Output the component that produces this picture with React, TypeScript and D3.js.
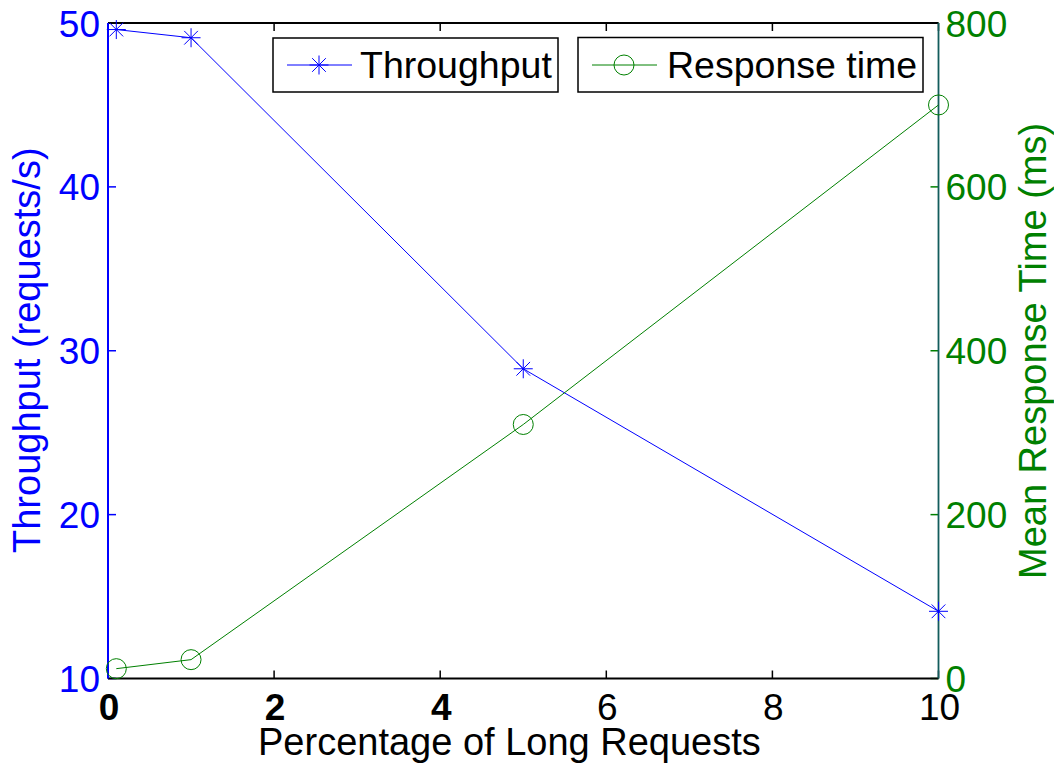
import React from "react";
import * as d3 from "d3";

// Share of long requests (%) for each measurement
const longRequestPct = [0.1, 1, 5, 10];
// Throughput in requests/s
const throughput = [49.6, 49.1, 28.9, 14.1];
// Mean response time in ms
const responseTime = [12, 23, 310, 700];

const xTicks = [0, 2, 4, 6, 8, 10];
const leftTicks = [10, 20, 30, 40, 50];
const rightTicks = [0, 200, 400, 600, 800];

const W = 1054;
const H = 765;
const plot = { left: 108, right: 938.5, top: 23, bottom: 678.5 };
const FONT = "'Liberation Sans', Arial, Helvetica, sans-serif";
const FS = 37;
const LABEL_FS = 38;
const LEGEND_FS = 37.5;
const BLUE = "#0000ff";
const GREEN = "#008000";
const TEAL = "#135c5c";
const TICK = 8;

function starPath(cx: number, cy: number, r: number) {
  const d = r * 0.72;
  return (
    `M${cx - r},${cy}L${cx + r},${cy}` +
    `M${cx},${cy - r}L${cx},${cy + r}` +
    `M${cx - d},${cy - d}L${cx + d},${cy + d}` +
    `M${cx - d},${cy + d}L${cx + d},${cy - d}`
  );
}

export default function App() {
  const x = d3.scaleLinear().domain([0, 10]).range([plot.left, plot.right]);
  const yL = d3.scaleLinear().domain([10, 50]).range([plot.bottom, plot.top]);
  const yR = d3.scaleLinear().domain([0, 800]).range([plot.bottom, plot.top]);

  const tpLine = d3
    .line<number>()
    .x((_, i) => x(longRequestPct[i]))
    .y((v) => yL(v))(throughput);
  const rtLine = d3
    .line<number>()
    .x((_, i) => x(longRequestPct[i]))
    .y((v) => yR(v))(responseTime);

  return (
    <svg
      width={W}
      height={H}
      style={{ position: "absolute", left: 0, top: 0, background: "#fff" }}
      fontFamily={FONT}
    >
      <rect x={0} y={0} width={W} height={H} fill="#fff" />

      {/* x ticks, bottom and top, pointing inward */}
      {xTicks.map((t) => (
        <g key={`xt${t}`} stroke="#000" strokeWidth={1.5}>
          <line x1={x(t)} x2={x(t)} y1={plot.bottom} y2={plot.bottom - TICK} />
          <line x1={x(t)} x2={x(t)} y1={plot.top} y2={plot.top + TICK} />
        </g>
      ))}
      {/* left axis ticks */}
      {leftTicks.map((t) => (
        <line
          key={`lt${t}`}
          x1={plot.left}
          x2={plot.left + TICK}
          y1={yL(t)}
          y2={yL(t)}
          stroke={BLUE}
          strokeWidth={1.5}
        />
      ))}
      {/* right axis ticks */}
      {rightTicks.map((t) => (
        <line
          key={`rt${t}`}
          x1={plot.right}
          x2={plot.right - TICK}
          y1={yR(t)}
          y2={yR(t)}
          stroke={GREEN}
          strokeWidth={1.5}
        />
      ))}

      {/* frame */}
      <line x1={plot.left} x2={plot.right} y1={plot.top} y2={plot.top} stroke="#000" strokeWidth={1.8} />
      <line x1={plot.left} x2={plot.right} y1={plot.bottom} y2={plot.bottom} stroke="#000" strokeWidth={1.8} />
      <line x1={plot.left} x2={plot.left} y1={plot.top} y2={plot.bottom} stroke={BLUE} strokeWidth={2} />
      <line x1={plot.right} x2={plot.right} y1={plot.top} y2={plot.bottom} stroke={TEAL} strokeWidth={1.8} />

      {/* series lines */}
      <path d={tpLine ?? ""} fill="none" stroke={BLUE} strokeWidth={1} />
      <path d={rtLine ?? ""} fill="none" stroke={GREEN} strokeWidth={1} />

      {/* markers */}
      {throughput.map((v, i) => (
        <path
          key={`tp${i}`}
          d={starPath(x(longRequestPct[i]), yL(v), 9.5)}
          stroke={BLUE}
          strokeWidth={1}
          fill="none"
        />
      ))}
      {responseTime.map((v, i) => (
        <circle
          key={`rt${i}`}
          cx={x(longRequestPct[i])}
          cy={yR(v)}
          r={10}
          stroke={GREEN}
          strokeWidth={1}
          fill="none"
        />
      ))}

      {/* x tick labels */}
      {xTicks.map((t) => (
        <text
          key={`xl${t}`}
          x={x(t) + 1}
          y={720}
          textAnchor="middle"
          fontSize={FS}
          fontWeight={t < 5 ? "bold" : "normal"}
          fill="#000"
        >
          {t}
        </text>
      ))}
      {/* left tick labels */}
      {leftTicks.map((t) => (
        <text
          key={`yl${t}`}
          x={plot.left - 8}
          y={yL(t) + 13.5}
          textAnchor="end"
          fontSize={FS}
          fill={BLUE}
        >
          {t}
        </text>
      ))}
      {/* right tick labels */}
      {rightTicks.map((t) => (
        <text
          key={`yr${t}`}
          x={plot.right + 7}
          y={yR(t) + 13.5}
          textAnchor="start"
          fontSize={FS}
          fill={GREEN}
        >
          {t}
        </text>
      ))}

      {/* axis titles */}
      <text x={258} y={755} textAnchor="start" fontSize={LABEL_FS} fill="#000">
        Percentage of Long Requests
      </text>
      <text
        transform={`translate(40,553) rotate(-90)`}
        textAnchor="start"
        fontSize={LABEL_FS}
        fill={BLUE}
      >
        Throughput (requests/s)
      </text>
      <text
        transform={`translate(1046,579) rotate(-90)`}
        textAnchor="start"
        fontSize={LABEL_FS}
        fill={GREEN}
      >
        Mean Response Time (ms)
      </text>

      {/* legend entries */}
      <g>
        <rect x={273} y={38} width={285} height={54} fill="#fff" stroke="#000" strokeWidth={1.5} />
        <line x1={287} x2={352} y1={65} y2={65} stroke={BLUE} strokeWidth={1} />
        <path d={starPath(319, 65, 9.5)} stroke={BLUE} strokeWidth={1} fill="none" />
        <text x={360} y={78} fontSize={LEGEND_FS} fill="#000">
          Throughput
        </text>
      </g>
      <g>
        <rect x={578} y={37.5} width={345} height={54.5} fill="#fff" stroke="#000" strokeWidth={1.5} />
        <line x1={592} x2={657} y1={65} y2={65} stroke={GREEN} strokeWidth={1} />
        <circle cx={624} cy={65} r={10} stroke={GREEN} strokeWidth={1} fill="none" />
        <text x={667} y={78} fontSize={LEGEND_FS} fill="#000">
          Response time
        </text>
      </g>
    </svg>
  );
}
